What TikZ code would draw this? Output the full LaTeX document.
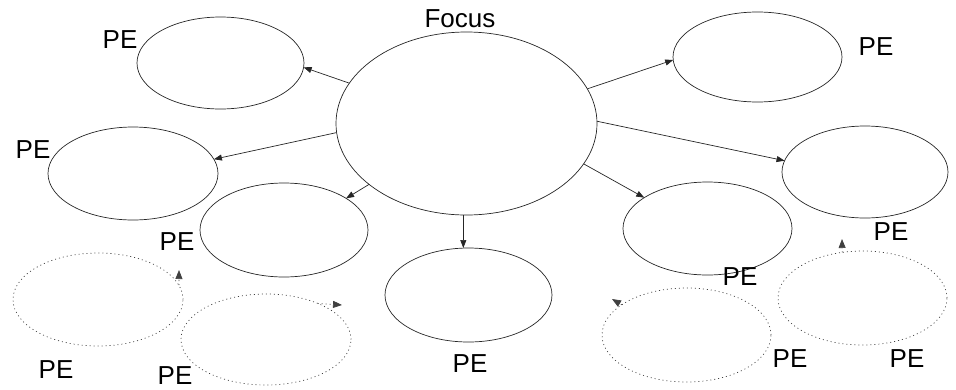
\documentclass[tikz,border=0pt]{standalone}
\usepackage{fontspec}
\setmainfont{Liberation Sans}
\usetikzlibrary{shapes.geometric,arrows.meta}
\tikzset{
  oval/.style={ellipse, draw=black!85, line width=0.7pt, inner sep=0pt, outer sep=0pt},
  faint/.style={oval, draw=black!75, dash pattern=on 1pt off 3pt},
  lbl/.style={anchor=base, inner sep=0pt, font=\fontsize{26}{30}\selectfont},
  conn/.style={draw=black!85, line width=0.7pt, -{Triangle[length=8pt,width=6pt]}},
  fconn/.style={draw=black!75, line width=0.7pt, dash pattern=on 1pt off 3pt, -{Triangle[length=9pt,width=7pt]}}
}
\begin{document}
\begin{tikzpicture}[x=1pt,y=-1pt]
\useasboundingbox (0,0) rectangle (956,389);
% central
\node[oval, minimum width=261pt, minimum height=183pt] (c) at (466.5,123.5) {};
\node[lbl] (focus) at (460,27) {Focus};
% outer ellipses
\node[oval, minimum width=167pt, minimum height=92pt] (e1) at (220.5,63) {};
\node[oval, minimum width=170pt, minimum height=93pt] (e2) at (133,173.5) {};
\node[oval, minimum width=168pt, minimum height=94pt] (e3) at (284,230) {};
\node[faint, minimum width=170pt, minimum height=93pt] (e4) at (98,299.5) {};
\node[faint, minimum width=170pt, minimum height=91pt] (e5) at (266,339.5) {};
\node[oval, minimum width=167pt, minimum height=94pt] (e6) at (468.5,295) {};
\node[oval, minimum width=169pt, minimum height=90pt] (e7) at (757.5,57) {};
\node[oval, minimum width=166pt, minimum height=92pt] (e8) at (865,172) {};
\node[oval, minimum width=169pt, minimum height=93pt] (e9) at (707.5,228.5) {};
\node[faint, minimum width=169pt, minimum height=94pt] (e10) at (686.5,335) {};
\node[faint, minimum width=169pt, minimum height=94pt] (e11) at (862.5,298) {};
% labels
\node[lbl] (l1) at (120,48) {PE};
\node[lbl] (l2) at (33,158) {PE};
\node[lbl] (l3) at (177,250) {PE};
\node[lbl] (l4) at (56,378) {PE};
\node[lbl] (l5) at (175,384) {PE};
\node[lbl] (l6) at (470,372) {PE};
\node[lbl] (l7) at (876,55) {PE};
\node[lbl] (l8) at (891,240) {PE};
\node[lbl] (l9) at (740,285) {PE};
\node[lbl] (l10) at (790,367) {PE};
\node[lbl] (l11) at (907,367) {PE};
% connectors from focus
\draw[conn] (c.161) -- (e1.-3);
\draw[conn] (c.184) -- (e2.10);
\draw[conn] (c.212) -- (e3.27);
\draw[conn] (c.268) -- (c.268 |- e6.north);
\draw[conn] (c.16.5) -- (e7.182.7);
\draw[conn] (c.1) -- (e8.172.5);
\draw[conn] (c.-19.5) -- (e9.154.7);
% pending (dotted) arrows
\coordinate (t4) at (179,270);
\coordinate (t5) at (342,305);
\coordinate (t10) at (612,299);
\coordinate (t11) at (842,239);
\draw[fconn] (e4.10) -- (t4);
\draw[fconn] (e5.35) -- (t5);
\draw[fconn] (e10.155) -- (t10);
\draw[fconn] (e11.114) -- (t11);
\end{tikzpicture}
\end{document}
